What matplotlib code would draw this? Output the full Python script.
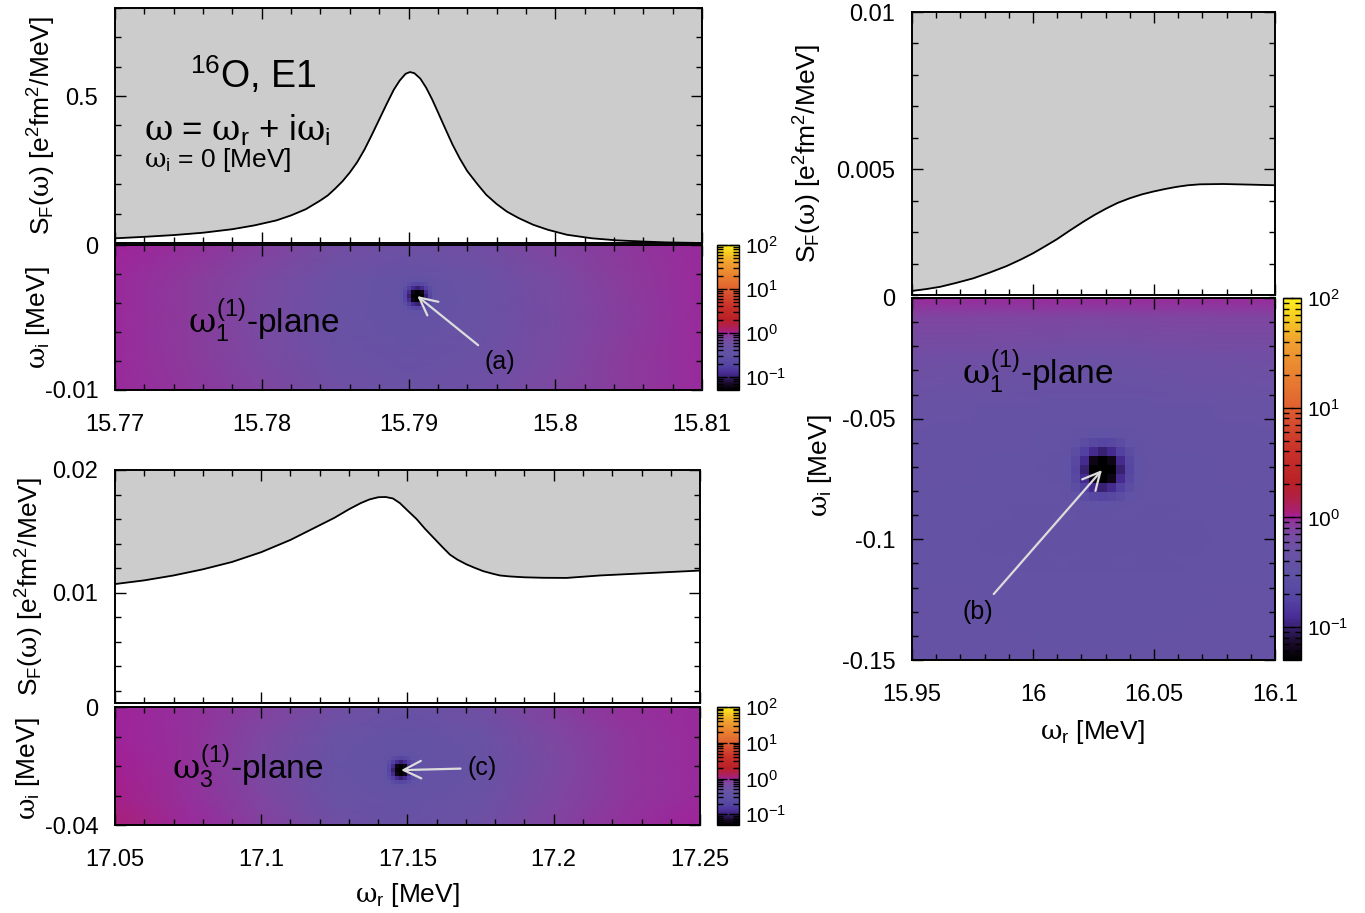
"""
16O E1 strength function and complex-plane maps (three panels).
"""

import matplotlib

matplotlib.use("Agg")

import matplotlib.pyplot as plt
import numpy as np
from matplotlib.cm import ScalarMappable
from matplotlib.colors import LinearSegmentedColormap, LogNorm
from matplotlib.ticker import FuncFormatter, MultipleLocator

plt.rcParams["font.family"] = ["Liberation Sans", "DejaVu Sans"]
plt.rcParams["mathtext.fontset"] = "custom"
plt.rcParams["mathtext.rm"] = "Liberation Sans"
plt.rcParams["mathtext.it"] = "DejaVu Serif"
plt.rcParams["mathtext.bf"] = "Liberation Sans:bold"
plt.rcParams["axes.unicode_minus"] = False
plt.rcParams["font.size"] = 17

LABEL_SIZE = 19

# ---------------------------------------------------------------- strength data
omega_a = [15.770, 15.772, 15.774, 15.776, 15.778, 15.7795, 15.781, 15.782,
           15.783, 15.784, 15.7845, 15.785, 15.7855, 15.786, 15.7865, 15.787,
           15.7875, 15.788, 15.7885, 15.789, 15.7894, 15.7898, 15.7901, 15.7904,
           15.7908, 15.7912, 15.7916, 15.792, 15.7925, 15.793, 15.7935, 15.794,
           15.7947, 15.7953, 15.796, 15.7967, 15.7975, 15.7985, 15.7995, 15.8008,
           15.8025, 15.8042, 15.806, 15.8076, 15.810]
strength_a = [0.016, 0.021, 0.027, 0.035, 0.047, 0.060, 0.077, 0.094,
              0.115, 0.145, 0.162, 0.185, 0.210, 0.240, 0.275, 0.318,
              0.368, 0.420, 0.472, 0.522, 0.553, 0.576, 0.582, 0.578,
              0.560, 0.529, 0.490, 0.446, 0.390, 0.335, 0.287, 0.245,
              0.200, 0.164, 0.133, 0.107, 0.085, 0.062, 0.045, 0.028,
              0.016, 0.009, 0.005, 0.002, 0.000]

omega_c = [17.050, 17.060, 17.070, 17.080, 17.090, 17.100, 17.110, 17.120,
           17.125, 17.130, 17.134, 17.137, 17.140, 17.1425, 17.145, 17.1474,
           17.150, 17.1531, 17.156, 17.1588, 17.162, 17.1645, 17.167, 17.1702,
           17.173, 17.1759, 17.179, 17.1816, 17.185, 17.190, 17.1965, 17.2044,
           17.2158, 17.2329, 17.250]
strength_c = [0.0107, 0.0110, 0.0114, 0.0119, 0.0125, 0.0133, 0.0143, 0.0155,
              0.0161, 0.0168, 0.01730, 0.01760, 0.01778, 0.01780, 0.01768, 0.01730,
              0.0167, 0.0160, 0.0152, 0.0145, 0.0137, 0.0131, 0.0127, 0.0123,
              0.01202, 0.01175, 0.01155, 0.0114, 0.01132, 0.01125, 0.01121, 0.0112,
              0.0114, 0.0116, 0.0118]

omega_b = [15.950, 15.956, 15.9616, 15.968, 15.9753, 15.982, 15.9891, 15.995,
           16.0001, 16.005, 16.0098, 16.015, 16.0208, 16.0255, 16.0305, 16.035,
           16.0401, 16.045, 16.0497, 16.0545, 16.0594, 16.064, 16.069, 16.0786,
           16.0897, 16.100]
strength_b = [0.00113, 0.00119, 0.00126, 0.00138, 0.00153, 0.00171, 0.00192, 0.00213,
              0.00233, 0.00255, 0.00277, 0.00304, 0.00333, 0.00355, 0.00376, 0.00393,
              0.00408, 0.00420, 0.00429, 0.00437, 0.00444, 0.00449, 0.00452, 0.00453,
              0.00451, 0.00449]

# ---------------------------------------------------------------- plane maps
# node values of |...| read off the colour scale
grid_a_x = [15.77, 15.775, 15.78, 15.785, 15.79, 15.795, 15.80, 15.805, 15.81]
grid_a_y = [0.0, -0.0025, -0.005, -0.0075, -0.01]
grid_a = [
    [0.98, 0.92, 0.80, 0.62, 0.54, 0.60, 0.78, 0.90, 0.97],
    [0.97, 0.88, 0.72, 0.50, 0.38, 0.48, 0.70, 0.87, 0.96],
    [0.96, 0.87, 0.70, 0.48, 0.38, 0.47, 0.68, 0.86, 0.96],
    [0.96, 0.88, 0.72, 0.52, 0.44, 0.51, 0.70, 0.87, 0.96],
    [0.97, 0.90, 0.75, 0.57, 0.50, 0.56, 0.73, 0.88, 0.97],
]

grid_c_x = [17.05, 17.075, 17.10, 17.125, 17.15, 17.175, 17.20, 17.225, 17.25]
grid_c_y = [0.0, -0.01, -0.02, -0.03, -0.04]
grid_c = [
    [1.00, 0.93, 0.80, 0.60, 0.48, 0.58, 0.80, 0.92, 0.97],
    [1.00, 0.92, 0.74, 0.48, 0.38, 0.48, 0.74, 0.90, 0.96],
    [1.02, 0.92, 0.72, 0.45, 0.37, 0.45, 0.72, 0.90, 0.96],
    [1.05, 0.94, 0.75, 0.48, 0.40, 0.48, 0.74, 0.91, 0.97],
    [1.12, 0.97, 0.80, 0.56, 0.45, 0.55, 0.78, 0.93, 0.98],
]

grid_b_x = [15.95, 15.975, 16.0, 16.025, 16.05, 16.075, 16.1]
grid_b_y = [0.0, -0.008, -0.025, -0.045, -0.07, -0.10, -0.125, -0.15]
grid_b = [
    [0.95, 0.96, 0.97, 0.97, 0.97, 0.96, 0.95],
    [0.76, 0.76, 0.75, 0.74, 0.75, 0.76, 0.76],
    [0.58, 0.57, 0.55, 0.53, 0.55, 0.57, 0.58],
    [0.46, 0.44, 0.42, 0.40, 0.42, 0.44, 0.46],
    [0.40, 0.39, 0.38, 0.37, 0.38, 0.39, 0.40],
    [0.39, 0.38, 0.37, 0.37, 0.37, 0.38, 0.39],
    [0.40, 0.39, 0.38, 0.38, 0.38, 0.39, 0.40],
    [0.42, 0.41, 0.40, 0.40, 0.40, 0.41, 0.42],
]

# cells around each zero
zero_patch = [
    [0.38, 0.37, 0.35, 0.33, 0.32, 0.33, 0.35, 0.37, 0.38],
    [0.37, 0.33, 0.27, 0.22, 0.20, 0.22, 0.27, 0.33, 0.37],
    [0.35, 0.27, 0.17, 0.12, 0.10, 0.12, 0.17, 0.27, 0.35],
    [0.33, 0.22, 0.12, 0.06, 0.045, 0.06, 0.12, 0.22, 0.33],
    [0.32, 0.20, 0.10, 0.045, 0.03, 0.045, 0.10, 0.20, 0.32],
    [0.33, 0.22, 0.12, 0.06, 0.045, 0.06, 0.12, 0.22, 0.33],
    [0.35, 0.27, 0.17, 0.12, 0.10, 0.12, 0.17, 0.27, 0.35],
    [0.37, 0.33, 0.27, 0.22, 0.20, 0.22, 0.27, 0.33, 0.37],
    [0.38, 0.37, 0.35, 0.33, 0.32, 0.33, 0.35, 0.37, 0.38],
]
zero_a = (15.7906, -0.00352)
zero_b = (16.0285, -0.0713)
zero_c = (17.1478, -0.0214)
label_a = (15.7962, -0.0081)
label_b = (15.9773, -0.1301)
label_c = (17.1755, -0.0207)

# ---------------------------------------------------------------- colour scale
cmap_levels = [-1.3, -1.15, -1.05, -1.0, -0.9, -0.75, -0.5, -0.3, -0.15, -0.05,
               0.0, 0.04, 0.15, 0.3, 0.6, 0.9, 1.0, 1.3, 1.6, 1.85, 2.0]
cmap_colors = ["#000000", "#1a0a2a", "#2e1a5a", "#3a2274", "#4a2e98", "#5444a2",
               "#6052a4", "#6a52a4", "#7a4aa2", "#8c3a9c", "#a2209a", "#a8207a",
               "#b0204e", "#b82028", "#c83028", "#d85030", "#e06030", "#e88030",
               "#f0a030", "#f8d020", "#fff020"]

cmap = LinearSegmentedColormap.from_list(
    "plane",
    [((lv - cmap_levels[0]) / (cmap_levels[-1] - cmap_levels[0]), c)
     for lv, c in zip(cmap_levels, cmap_colors)],
)
norm = LogNorm(vmin=10 ** cmap_levels[0], vmax=10 ** cmap_levels[-1])

W, H = 1365, 913
fig = plt.figure(figsize=(W / 100, H / 100), dpi=100)


def px_axes(left, top, right, bottom):
    return fig.add_axes([left / W, 1 - bottom / H, (right - left) / W, (bottom - top) / H])


def tick_fmt(v, pos):
    v = round(v, 6) + 0.0
    return f"{v:g}"


def style_axes(ax, x_major, x_minor, y_major, y_minor):
    ax.xaxis.set_major_locator(MultipleLocator(x_major))
    ax.xaxis.set_minor_locator(MultipleLocator(x_minor))
    ax.yaxis.set_major_locator(MultipleLocator(y_major))
    ax.yaxis.set_minor_locator(MultipleLocator(y_minor))
    ax.xaxis.set_major_formatter(FuncFormatter(tick_fmt))
    ax.yaxis.set_major_formatter(FuncFormatter(tick_fmt))
    ax.tick_params(which="both", direction="in", top=True, right=True,
                   width=1.0, color="black")
    ax.tick_params(which="major", length=8)
    ax.tick_params(which="minor", length=4)
    ax.tick_params(axis="x", pad=17)
    ax.tick_params(axis="y", pad=12)
    for spine in ax.spines.values():
        spine.set_linewidth(1.4)


def strength_panel(ax, omega, strength, xlim, ylim):
    ax.fill_between(omega, strength, ylim[1], color="#cccccc", lw=0, zorder=1)
    ax.plot(omega, strength, color="black", lw=1.3, zorder=2)
    ax.set_xlim(*xlim)
    ax.set_ylim(*ylim)
    ax.tick_params(labelbottom=False)
    ax.set_ylabel(r"S$_{\mathrm{F}}$($\omega$) [e$^{2}$fm$^{2}$/MeV]", va="center",
                  fontsize=LABEL_SIZE)


def plane_panel(ax, gx, gy, grid, zero, half_w, half_h, xlim, ylim):
    X, Y = np.meshgrid(gx, gy)
    ax.pcolormesh(X, Y, np.array(grid), shading="gouraud", cmap=cmap, norm=norm, zorder=0)
    ax.imshow(np.array(zero_patch), cmap=cmap, norm=norm, interpolation="nearest",
              aspect="auto", origin="upper", zorder=1,
              extent=[zero[0] - half_w, zero[0] + half_w, zero[1] - half_h, zero[1] + half_h])
    ax.set_xlim(*xlim)
    ax.set_ylim(*ylim)
    ax.set_ylabel(r"$\omega_{\mathrm{i}}$ [MeV]", va="center", fontsize=LABEL_SIZE)


def point_at(ax, text, xy, xytext):
    ax.annotate(text, xy=xy, xytext=xytext, ha="center", va="center", fontsize=18,
                arrowprops=dict(arrowstyle="->,head_length=0.7,head_width=0.35",
                                color="#dcdcdc", lw=1.6, shrinkA=3, shrinkB=0),
                zorder=5)


def colorbar(cax):
    cb = fig.colorbar(ScalarMappable(norm=norm, cmap=cmap), cax=cax)
    cb.outline.set_linewidth(1.0)
    cb.minorticks_on()
    cax.tick_params(which="both", direction="in", left=True, right=True,
                    color="black", width=1.0, labelsize=15, pad=4)
    cax.tick_params(which="major", length=7)
    cax.tick_params(which="minor", length=4)
    return cb


plane_label = r"$\omega_{1}^{(1)}$-plane"

# ---------------------------------------------------------------- (a) panels
ax1 = px_axes(115, 8, 702, 243)
strength_panel(ax1, omega_a, strength_a, (15.77, 15.81), (0.0, 0.8))
style_axes(ax1, 0.01, 0.002, 0.5, 0.1)
ax1.yaxis.set_major_formatter(FuncFormatter(lambda v, p: "" if abs(v) < 1e-9 else tick_fmt(v, p)))
ax1.yaxis.set_label_coords(-0.124, 0.5)
ax1.text(0.128, 0.714, r"$^{16}$O, E1", transform=ax1.transAxes, fontsize=27,
         ha="left", va="center")
ax1.text(0.05, 0.48, r"$\omega$ = $\omega_{\mathrm{r}}$ + i$\omega_{\mathrm{i}}$",
         transform=ax1.transAxes, fontsize=25, ha="left", va="center")
ax1.text(0.05, 0.355, r"$\omega_{\mathrm{i}}$ = 0 [MeV]", transform=ax1.transAxes,
         fontsize=19, ha="left", va="center")

ax1m = px_axes(115, 245, 702, 390)
plane_panel(ax1m, grid_a_x, grid_a_y, grid_a, zero_a, 0.00123, 0.00123,
            (15.77, 15.81), (-0.01, 0.0))
style_axes(ax1m, 0.01, 0.002, 0.01, 0.002)
ax1m.yaxis.set_label_coords(-0.131, 0.5)
ax1m.text(0.124, 0.48, plane_label, transform=ax1m.transAxes, fontsize=24,
          ha="left", va="center")
point_at(ax1m, "(a)", zero_a, label_a)
colorbar(px_axes(717, 245, 739, 390))

# ---------------------------------------------------------------- (c) panels
ax2 = px_axes(115, 470, 700, 703)
strength_panel(ax2, omega_c, strength_c, (17.05, 17.25), (0.001, 0.02))
style_axes(ax2, 0.05, 0.01, 0.01, 0.002)
ax2.yaxis.set_label_coords(-0.145, 0.5)

ax2m = px_axes(115, 707, 700, 825)
plane_panel(ax2m, grid_c_x, grid_c_y, grid_c, zero_c, 0.0061, 0.0061,
            (17.05, 17.25), (-0.04, 0.0))
style_axes(ax2m, 0.05, 0.01, 0.04, 0.01)
ax2m.yaxis.set_label_coords(-0.149, 0.48)
ax2m.set_xlabel(r"$\omega_{\mathrm{r}}$ [MeV]", va="center", fontsize=LABEL_SIZE)
ax2m.xaxis.set_label_coords(0.5, -0.59)
ax2m.text(0.097, 0.49, r"$\omega_{3}^{(1)}$-plane", transform=ax2m.transAxes,
          fontsize=24, ha="left", va="center")
point_at(ax2m, "(c)", zero_c, label_c)
colorbar(px_axes(717, 707, 739, 825))

# ---------------------------------------------------------------- (b) panels
ax3 = px_axes(912, 12, 1275, 295)
strength_panel(ax3, omega_b, strength_b, (15.95, 16.1), (0.001, 0.01))
style_axes(ax3, 0.05, 0.01, 0.005, 0.001)
ax3.yaxis.set_label_coords(-0.287, 0.5)

ax3m = px_axes(912, 298, 1275, 660)
plane_panel(ax3m, grid_b_x, grid_b_y, grid_b, zero_b, 0.0167, 0.0167,
            (15.95, 16.1), (-0.15, 0.0))
style_axes(ax3m, 0.05, 0.01, 0.05, 0.01)
ax3m.yaxis.set_label_coords(-0.253, 0.536)
ax3m.set_xlabel(r"$\omega_{\mathrm{r}}$ [MeV]", va="center", fontsize=LABEL_SIZE)
ax3m.xaxis.set_label_coords(0.496, -0.199)
ax3m.text(0.138, 0.796, plane_label, transform=ax3m.transAxes, fontsize=24,
          ha="left", va="center")
point_at(ax3m, "(b)", zero_b, label_b)
colorbar(px_axes(1283, 298, 1301, 660))

fig.savefig("out.png", dpi=100)
